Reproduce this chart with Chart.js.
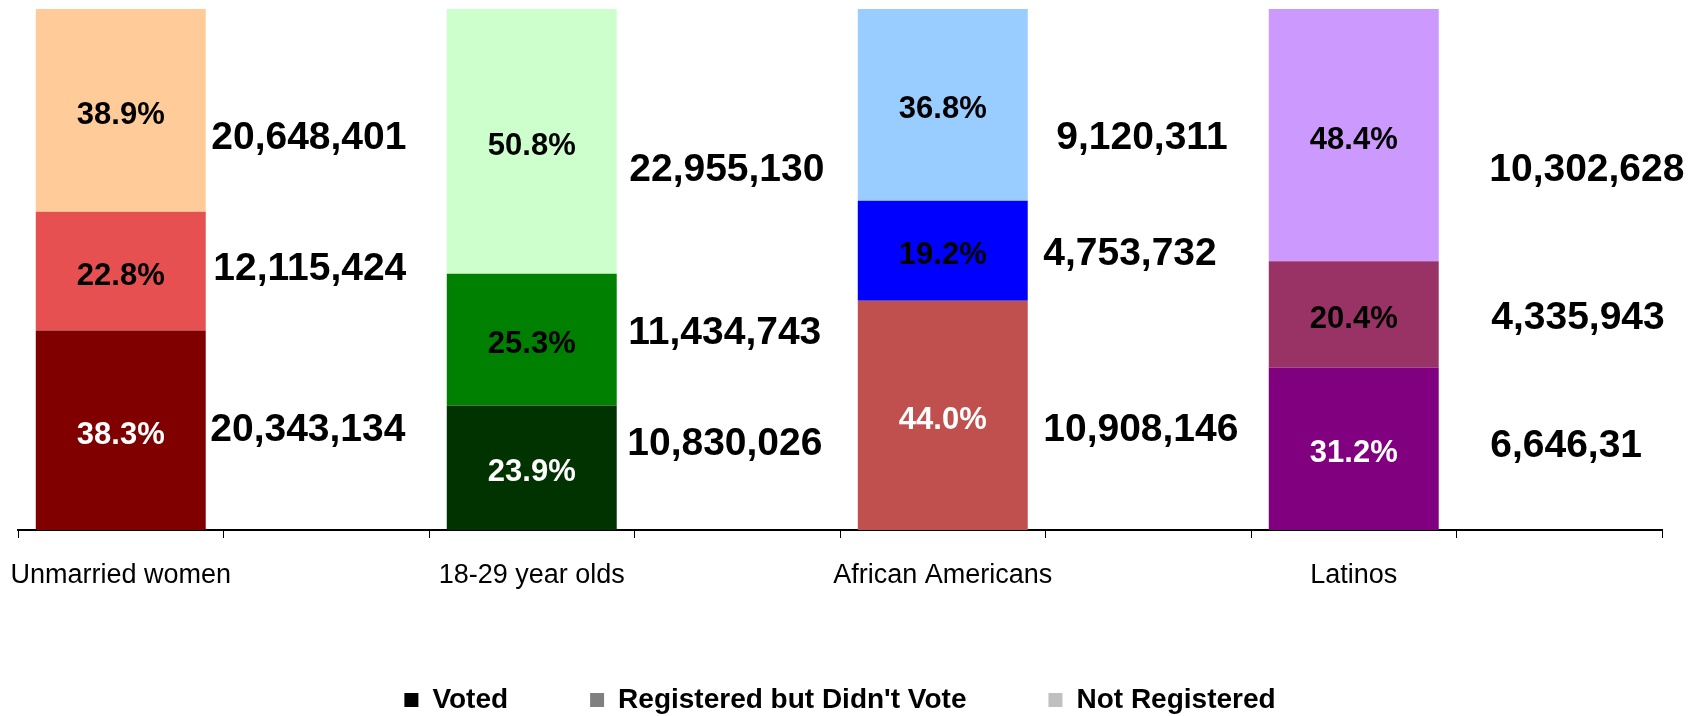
<!DOCTYPE html>
<html>
<head>
<meta charset="utf-8">
<script src="https://cdn.jsdelivr.net/npm/chart.js@4/dist/chart.umd.min.js"></script>
<style>
  html, body { margin: 0; padding: 0; background: #fff; }
  #wrap { width: 1707px; height: 716px; position: relative; }
</style>
</head>
<body>
<div id="wrap"><canvas id="turnout"></canvas></div>
<script>
// Turnout breakdown per group, shares of each group's eligible population (%)
const groups = ["Unmarried women", "18-29 year olds", "African Americans", "Latinos"];
const seriesNames = ["Voted", "Registered but Didn't Vote", "Not Registered"];

const votedPct = [38.3, 23.9, 44.0, 31.2];
const registeredPct = [22.8, 25.3, 19.2, 20.4];
const notRegisteredPct = [38.9, 50.8, 36.8, 48.4];

// Head counts printed beside each bar
const votedCount = ["20,343,134", "10,830,026", "10,908,146", "6,646,31"];
const registeredCount = ["12,115,424", "11,434,743", "4,753,732", "4,335,943"];
const notRegisteredCount = ["20,648,401", "22,955,130", "9,120,311", "10,302,628"];

// Each group gets its own palette
const votedColors = ["#800000", "#003300", "#C0504D", "#800080"];
const registeredColors = ["#E65050", "#008000", "#0000FF", "#993366"];
const notRegisteredColors = ["#FFCC99", "#CCFFCC", "#99CCFF", "#CC99FF"];
const legendColors = ["#000000", "#808080", "#C0C0C0"];

const FONT = "'Liberation Sans', Arial, Helvetica, sans-serif";

// every group takes two slots: the bar, then an empty slot for the counts
const slotLabels = groups.flatMap(g => [g, ""]);
const toSlots = arr => arr.flatMap(v => [v, null]);

// where the count text sits next to each bar: x offset from the empty slot centre,
// and the height on the percent axis for [voted, registered, not registered]
const countPlacement = [
  { dx: [-116, -113, -115], levels: [19.6, 50.4, 75.5] },
  { dx: [-110, -109, -108], levels: [16.8, 38.1, 69.4] },
  { dx: [-105, -105, -92], levels: [19.6, 53.4, 75.5] },
  { dx: [-69, -68, -70], levels: [16.5, 41.0, 69.4] },
];

const segmentLabels = {
  id: "segmentLabels",
  afterDatasetsDraw(chart) {
    const { ctx } = chart;
    ctx.save();
    ctx.font = "bold 31px " + FONT;
    ctx.textAlign = "center";
    ctx.textBaseline = "middle";
    chart.data.datasets.forEach((ds, di) => {
      const meta = chart.getDatasetMeta(di);
      meta.data.forEach((bar, i) => {
        const v = ds.data[i];
        if (v == null) return;
        ctx.fillStyle = di === 0 ? "#ffffff" : "#000000";
        ctx.fillText(v.toFixed(1) + "%", bar.x, (bar.y + bar.base) / 2 + 5);
      });
    });
    ctx.restore();
  },
};

const countLabels = {
  id: "countLabels",
  afterDatasetsDraw(chart) {
    const { ctx } = chart;
    const x = chart.scales.x;
    const y = chart.scales.y;
    const counts = [votedCount, registeredCount, notRegisteredCount];
    ctx.save();
    ctx.font = "bold 39px " + FONT;
    ctx.textAlign = "left";
    ctx.textBaseline = "middle";
    ctx.fillStyle = "#000000";
    groups.forEach((g, gi) => {
      const place = countPlacement[gi];
      const cx = x.getPixelForValue(gi * 2 + 1);
      counts.forEach((list, si) => {
        ctx.fillText(list[gi], cx + place.dx[si], y.getPixelForValue(place.levels[si]) + 2);
      });
    });
    ctx.restore();
  },
};

new Chart(document.getElementById("turnout"), {
  type: "bar",
  data: {
    labels: slotLabels,
    datasets: [
      { label: seriesNames[0], data: toSlots(votedPct), backgroundColor: toSlots(votedColors) },
      { label: seriesNames[1], data: toSlots(registeredPct), backgroundColor: toSlots(registeredColors) },
      { label: seriesNames[2], data: toSlots(notRegisteredPct), backgroundColor: toSlots(notRegisteredColors) },
    ],
  },
  options: {
    responsive: true,
    maintainAspectRatio: false,
    animation: false,
    events: [],
    layout: { padding: { top: 9, left: 18, right: 45, bottom: 0 } },
    datasets: {
      bar: { categoryPercentage: 1, barPercentage: 0.827, borderWidth: 0 },
    },
    plugins: {
      tooltip: { enabled: false },
      legend: {
        position: "bottom",
        maxHeight: 112,
        labels: {
          font: { family: FONT, size: 28, weight: "bold" },
          color: "#000000",
          boxWidth: 14,
          boxHeight: 14,
          padding: 82,
          generateLabels: () => seriesNames.map((name, i) => ({
            text: name,
            fillStyle: legendColors[i],
            strokeStyle: legendColors[i],
            lineWidth: 0,
            fontColor: "#000000",
            datasetIndex: i,
          })),
        },
      },
    },
    scales: {
      x: {
        stacked: true,
        grid: {
          display: true,
          offset: true,
          drawOnChartArea: false,
          drawTicks: true,
          tickLength: 8,
          color: "#000000",
          lineWidth: 1,
        },
        border: { display: true, color: "#000000", width: 2 },
        ticks: {
          color: "#000000",
          font: { family: FONT, size: 27 },
          padding: 21,
          maxRotation: 0,
          autoSkip: false,
        },
        // fixed axis band; the wide first label may overhang into the left margin
        afterFit(scale) {
          scale.height = 74;
          scale.paddingLeft = 0;
          scale.paddingRight = 0;
        },
      },
      y: {
        stacked: true,
        display: false,
        min: 0,
        max: 100,
      },
    },
  },
  plugins: [segmentLabels, countLabels],
});
</script>
</body>
</html>
